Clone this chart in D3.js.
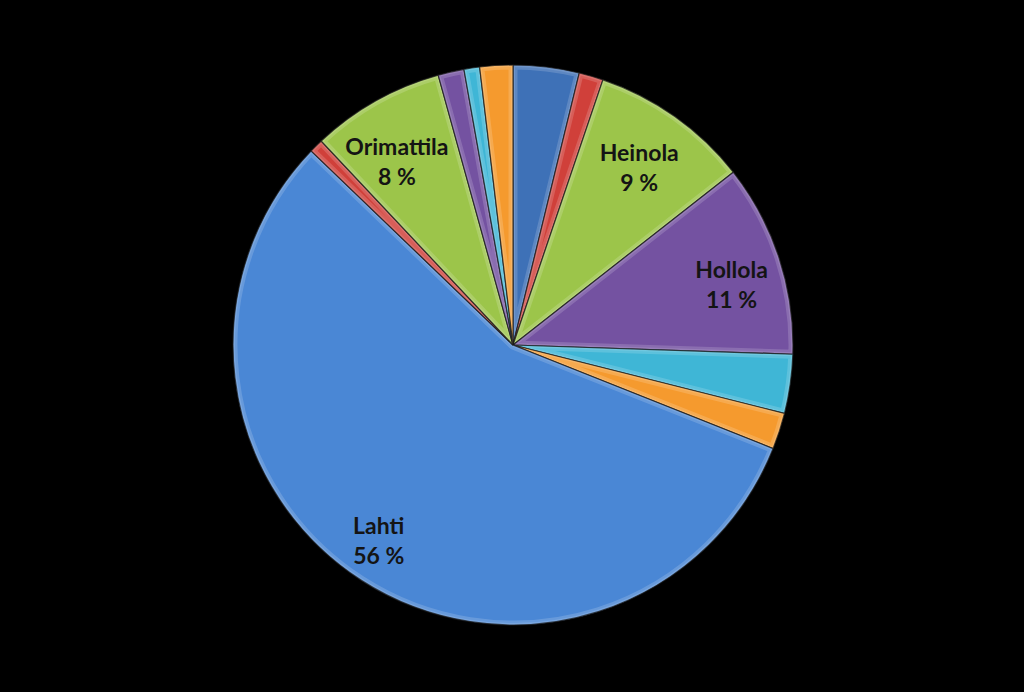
<!DOCTYPE html>
<html>
<head>
<meta charset="utf-8">
<script src="https://cdn.jsdelivr.net/npm/d3@7"></script>
<style>
  html, body { margin: 0; padding: 0; background: #000; }
  svg { display: block; }
</style>
</head>
<body>
<svg id="chart" width="1024" height="692"></svg>
<script>
// Data (clockwise from 12 o'clock)
const categories = ["Muu A", "Muu B", "Heinola", "Hollola", "Muu C", "Muu D", "Lahti", "Muu E", "Orimattila", "Muu F", "Muu G", "Muu H"];
const values = [3.8, 1.4, 9.2, 11.1, 3.4, 2.1, 56.1, 0.8, 7.7, 1.5, 0.9, 1.9];
const labels = ["", "", "9 %", "11 %", "", "", "56 %", "", "8 %", "", "", ""];
const colors = ["#3E71B7", "#D0403A", "#9CC54A", "#7452A1", "#3FB6D6", "#F59A2E",
                "#4A87D5", "#D0403A", "#9CC54A", "#7452A1", "#3FB6D6", "#F59A2E"];

const svg = d3.select("#chart");
const cx = 513, cy = 345, R = 280;
const g = svg.append("g").attr("transform", `translate(${cx},${cy})`);

const data = categories.map((c, i) => ({ name: c, value: values[i], label: labels[i], color: colors[i], i }));
const pie = d3.pie().value(d => d.value).sort(null);
const arcs = pie(data);
const arc = d3.arc().innerRadius(0).outerRadius(R);
const labelArc = d3.arc().innerRadius(R * 0.78).outerRadius(R * 0.78);

const defs = svg.append("defs");
arcs.forEach((a, i) => {
  defs.append("clipPath").attr("id", "clip" + i)
    .append("path").attr("d", arc(a));
});

const slices = g.selectAll("g.slice").data(arcs).join("g").attr("class", "slice");
slices.append("path")
  .attr("d", arc)
  .attr("fill", d => d.data.color);
// bevel highlight (inner edge glow)
slices.append("path")
  .attr("d", arc)
  .attr("fill", "none")
  .attr("stroke", "#fff")
  .attr("stroke-opacity", 0.16)
  .attr("stroke-width", 9)
  .attr("stroke-linejoin", "round")
  .attr("clip-path", (d, i) => `url(#clip${i})`);
slices.append("path")
  .attr("d", arc)
  .attr("fill", "none")
  .attr("stroke", "#fff")
  .attr("stroke-opacity", 0.12)
  .attr("stroke-width", 4)
  .attr("stroke-linejoin", "round")
  .attr("clip-path", (d, i) => `url(#clip${i})`);
slices.append("path")
  .attr("d", arc)
  .attr("fill", "none")
  .attr("stroke", "#1a1a1a")
  .attr("stroke-opacity", 0.75)
  .attr("stroke-width", 1.2);

// Label placement: centroid plus small nudges to mimic the reference layout
const nudge = { "Heinola": [0, 1], "Hollola": [11, 8], "Lahti": [-16, 12], "Orimattila": [-9, 7] };
const lab = g.selectAll("text.lab").data(arcs.filter(d => d.data.label)).join("text")
  .attr("class", "lab")
  .attr("transform", d => {
    const c = labelArc.centroid(d);
    const n = nudge[d.data.name] || [0, 0];
    return `translate(${c[0] + n[0]},${c[1] + n[1]})`;
  })
  .attr("text-anchor", "middle")
  .attr("font-family", "Lato, 'Open Sans', sans-serif")
  .attr("font-weight", "bold")
  .attr("font-size", 23)
  .attr("fill", "#141414");
lab.append("tspan").attr("x", 0).attr("y", -7).text(d => d.data.name);
lab.append("tspan").attr("x", 0).attr("y", 23).text(d => d.data.label);
</script>
</body>
</html>
